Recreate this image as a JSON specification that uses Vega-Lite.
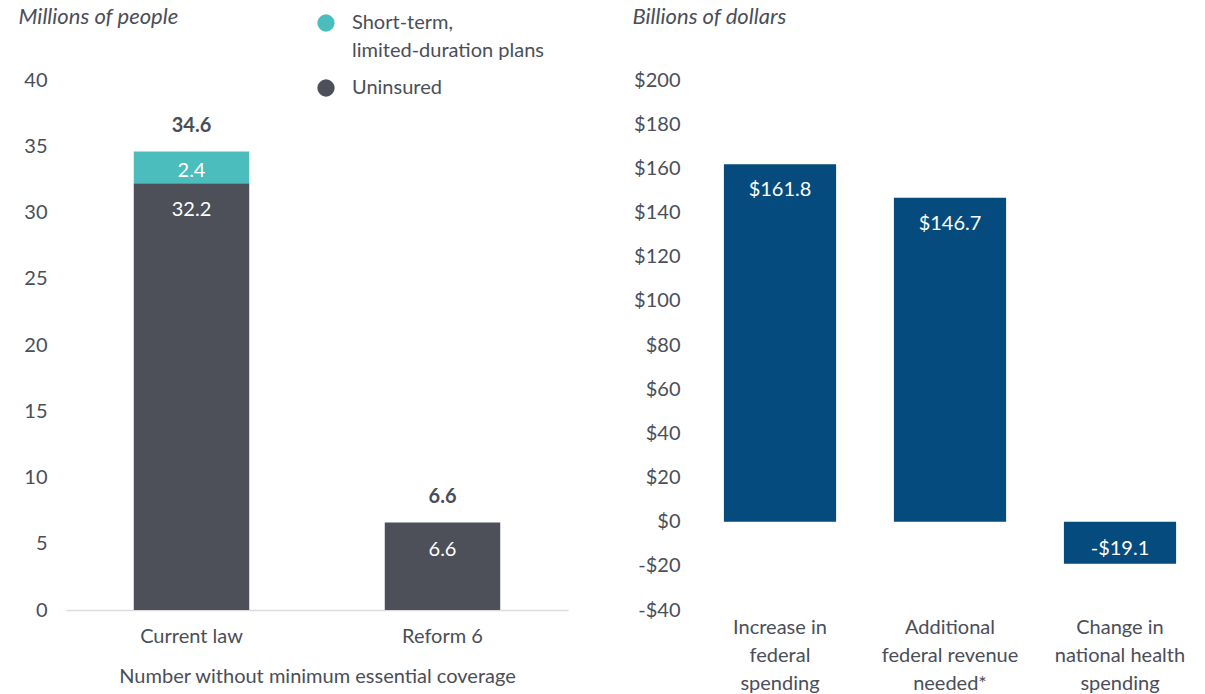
{
  "$schema": "https://vega.github.io/schema/vega-lite/v6.json",
  "padding": {"left": 18, "top": 5, "right": 0, "bottom": 0},
  "bounds": "flush",
  "spacing": 127,
  "config": {
    "font": "Lato",
    "view": {"stroke": null},
    "axis": {"labelColor": "#4a4e58", "titleColor": "#4a4e58", "labelFont": "Lato", "titleFont": "Lato", "labelFontSize": 20, "grid": false, "ticks": false},
    "text": {"font": "Lato", "fontSize": 20},
    "legend": {"labelFont": "Lato", "labelColor": "#4a4e58"},
    "style": {"guide-label": {"lineHeight": 28}}
  },
  "hconcat": [
    {
      "width": 502,
      "height": 530,
      "data": {"values": [
        {"category": "Current law", "series": "Uninsured", "value": 32.2},
        {"category": "Current law", "series": "Short-term, limited-duration plans", "value": 2.4},
        {"category": "Reform 6", "series": "Uninsured", "value": 6.6}
      ]},
      "encoding": {
        "x": {"field": "category", "type": "nominal", "sort": null,
          "scale": {"paddingInner": 0.54, "paddingOuter": 0.27},
          "axis": {"title": "Number without minimum essential coverage", "titleFontSize": 20, "titleFontWeight": "normal", "titlePadding": 20, "labelAngle": 0, "labelPadding": 16, "domain": true, "domainColor": "#dcdcdc", "domainWidth": 1.5}}
      },
      "layer": [
        {
          "mark": {"type": "bar"},
          "encoding": {
            "y": {"field": "value", "type": "quantitative", "stack": "zero", "title": "Millions of people",
              "scale": {"domain": [0, 40], "nice": false},
              "axis": {"values": [0, 5, 10, 15, 20, 25, 30, 35, 40], "domain": false, "labelPadding": 19, "titleAngle": 0, "titleAlign": "left", "titleBaseline": "alphabetic", "titleX": -48, "titleY": -57, "titleFontStyle": "italic", "titleFontWeight": "normal", "titleFontSize": 22}},
            "color": {"field": "series", "type": "nominal",
              "scale": {"domain": ["Short-term, limited-duration plans", "Uninsured"], "range": ["#4bbdbc", "#4d5059"]},
              "legend": {"orient": "none", "legendX": 250, "legendY": -67, "title": null, "symbolType": "circle", "symbolSize": 300, "labelFontSize": 20, "labelOffset": 16, "labelLimit": 0, "rowPadding": 17,
                "labelExpr": "datum.label == 'Uninsured' ? datum.label : ['Short-term,', 'limited-duration plans']"}},
            "order": {"field": "series", "sort": "descending"}
          }
        },
        {
          "mark": {"type": "text", "fontWeight": "bold", "dy": -26, "color": "#4a4e58"},
          "encoding": {
            "y": {"aggregate": "sum", "field": "value", "type": "quantitative", "title": "Millions of people"},
            "text": {"aggregate": "sum", "field": "value", "type": "quantitative", "format": ".1f"}
          }
        },
        {
          "transform": [{"filter": "datum.series == 'Uninsured'"}],
          "mark": {"type": "text", "dy": 27, "color": "white"},
          "encoding": {
            "y": {"field": "value", "type": "quantitative", "title": "Millions of people"},
            "text": {"field": "value", "type": "quantitative", "format": ".1f"}
          }
        },
        {
          "transform": [
            {"joinaggregate": [{"op": "sum", "field": "value", "as": "total"}], "groupby": ["category"]},
            {"filter": "datum.series != 'Uninsured'"}
          ],
          "mark": {"type": "text", "dy": 19, "color": "white"},
          "encoding": {
            "y": {"field": "total", "type": "quantitative", "title": "Millions of people"},
            "text": {"field": "value", "type": "quantitative", "format": ".1f"}
          }
        }
      ]
    },
    {
      "width": 510,
      "height": 530,
      "data": {"values": [
        {"category": "Increase in|federal|spending", "value": 161.8},
        {"category": "Additional|federal revenue|needed*", "value": 146.7},
        {"category": "Change in|national health|spending", "value": -19.1}
      ]},
      "transform": [
        {"calculate": "(datum.value < 0 ? '-' : '') + '$' + format(abs(datum.value), '.1f')", "as": "label"}
      ],
      "encoding": {
        "x": {"field": "category", "type": "nominal", "sort": null,
          "scale": {"paddingInner": 0.34, "paddingOuter": 0.17},
          "axis": {"title": null, "labelAngle": 0, "labelExpr": "split(datum.label, '|')", "labelLineHeight": 28, "labelPadding": 7, "labelBaseline": "top", "domain": false}}
      },
      "layer": [
        {
          "mark": {"type": "rule", "color": "#d9d9d9", "strokeWidth": 1.5},
          "encoding": {"y": {"datum": 0, "type": "quantitative"}}
        },
        {
          "mark": {"type": "bar", "color": "#054b7d"},
          "encoding": {
            "y": {"field": "value", "type": "quantitative", "title": "Billions of dollars",
              "scale": {"domain": [-40, 200], "nice": false},
              "axis": {"values": [-40, -20, 0, 20, 40, 60, 80, 100, 120, 140, 160, 180, 200], "domain": false, "labelPadding": 15,
                "labelExpr": "(datum.value < 0 ? '-' : '') + '$' + abs(datum.value)",
                "titleAngle": 0, "titleAlign": "left", "titleBaseline": "alphabetic", "titleX": -63, "titleY": -57, "titleFontStyle": "italic", "titleFontWeight": "normal", "titleFontSize": 22}}
          }
        },
        {
          "transform": [{"filter": "datum.value > 0"}],
          "mark": {"type": "text", "dy": 26, "color": "white"},
          "encoding": {
            "y": {"field": "value", "type": "quantitative", "title": "Billions of dollars"},
            "text": {"field": "label", "type": "nominal"}
          }
        },
        {
          "transform": [{"filter": "datum.value < 0"}],
          "mark": {"type": "text", "dy": -15, "color": "white"},
          "encoding": {
            "y": {"field": "value", "type": "quantitative", "title": "Billions of dollars"},
            "text": {"field": "label", "type": "nominal"}
          }
        }
      ]
    }
  ]
}
